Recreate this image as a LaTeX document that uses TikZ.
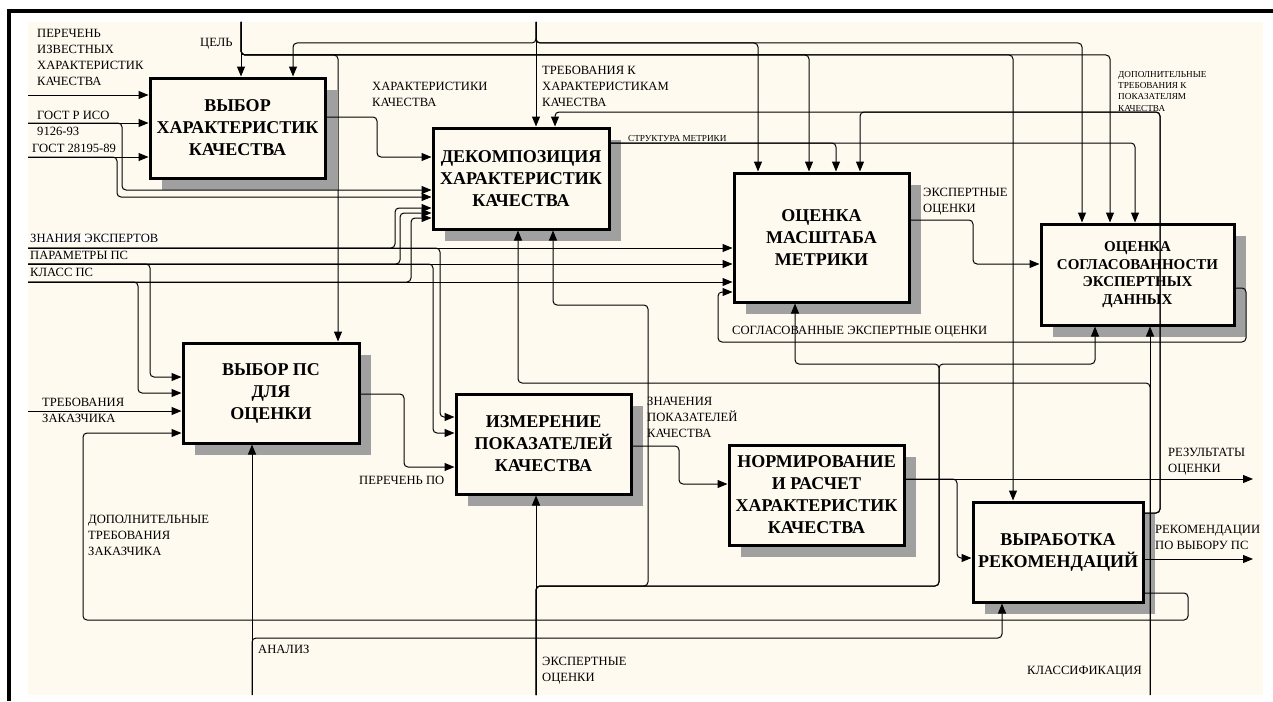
\documentclass[tikz,border=0pt]{standalone}
\usepackage{fontspec}
\setmainfont{Liberation Serif}
\usetikzlibrary{arrows.meta,shadows}
\definecolor{cream}{RGB}{255,250,240}
\definecolor{shade}{RGB}{160,160,160}
\begin{document}
\begin{tikzpicture}[x=1pt,y=-1pt,
  box/.style={draw, line width=3pt, fill=cream, inner sep=0pt, align=center,
    font=\fontsize{18}{22}\selectfont\bfseries,
    drop shadow={shadow xshift=12pt, shadow yshift=-12pt, fill=shade, opacity=1}},
  conn/.style={line width=1pt, rounded corners=4pt},
  arr/.style={conn, -{Triangle[length=10pt,width=8pt]}},
  lbl/.style={inner sep=0pt, anchor=base west, align=left, font=\fontsize{12.6}{15.8}\selectfont},
  slbl/.style={inner sep=0pt, anchor=base west, align=left, font=\fontsize{9.2}{11.3}\selectfont}]
\useasboundingbox (0,0) rectangle (1273,701);
\fill[white] (0,0) rectangle (1273,701);
\fill[cream] (28,22) rectangle (1263,695);
\draw[line width=4pt] (1273,11.5) -- (8.5,11.5) -- (8.5,701);

% boxes
\node[box, minimum width=175pt, minimum height=100pt] (b1) at (237.5,128) {ВЫБОР\\ХАРАКТЕРИСТИК\\КАЧЕСТВА};
\node[box, minimum width=176pt, minimum height=101pt] (b2) at (521,178.5) {ДЕКОМПОЗИЦИЯ\\ХАРАКТЕРИСТИК\\КАЧЕСТВА};
\node[box, minimum width=175pt, minimum height=129pt] (b3) at (821.5,237.5) {ОЦЕНКА\\МАСШТАБА\\МЕТРИКИ};
\node[box, minimum width=193pt, minimum height=101pt, font=\fontsize{15}{17.7}\selectfont\bfseries] (b4) at (1137.5,274.5) {ОЦЕНКА\\СОГЛАСОВАННОСТИ\\ЭКСПЕРТНЫХ\\ДАННЫХ};
\node[box, minimum width=176pt, minimum height=100pt] (b5) at (271,393) {ВЫБОР ПС\\ДЛЯ\\ОЦЕНКИ};
\node[box, minimum width=175pt, minimum height=100pt] (b6) at (543.5,444) {ИЗМЕРЕНИЕ\\ПОКАЗАТЕЛЕЙ\\КАЧЕСТВА};
\node[box, minimum width=175pt, minimum height=100pt] (b7) at (816.5,495) {НОРМИРОВАНИЕ\\И РАСЧЕТ\\ХАРАКТЕРИСТИК\\КАЧЕСТВА};
\node[box, minimum width=170pt, minimum height=100pt] (b8) at (1058,552) {ВЫРАБОТКА\\РЕКОМЕНДАЦИЙ};

% free ends
\coordinate (goal) at (241,22);
\coordinate (req) at (536,22);
\coordinate (knw) at (28,248);
\coordinate (par) at (28,264);
\coordinate (cls) at (28,282);
\coordinate (lst) at (28,95);
\coordinate (gost1) at (28,123);
\coordinate (gost2) at (28,157);
\coordinate (cust) at (28,411);
\coordinate (anl) at (252,695);
\coordinate (exb) at (536,695);
\coordinate (clf) at (1150,695);
\coordinate (res) at (1253,479);
\coordinate (rec) at (1253,559);

% ЦЕЛЬ
\draw[arr] (goal) -- (241,0 |- b1.north);
\draw[arr] (goal) -- (241,55) -- (338,55) -- (338,0 |- b5.north);
\draw[arr] (goal) -- (241,55) -- (809,55) -- (809,0 |- b3.north);
\draw[arr] (goal) -- (241,55) -- (1013,55) -- (1013,0 |- b8.north);
\draw[arr] (goal) -- (241,55) -- (1110,55) -- (1110,0 |- b4.north);
% ТРЕБОВАНИЯ К ХАРАКТЕРИСТИКАМ
\draw[arr] (req) -- (536,0 |- b2.north);
\draw[arr] (req) -- (536,43) -- (293,43) -- (293,0 |- b1.north);
\draw[arr] (req) -- (536,43) -- (758,43) -- (758,0 |- b3.north);
\draw[arr] (req) -- (536,43) -- (1082,43) -- (1082,0 |- b4.north);
% ДОПОЛНИТЕЛЬНЫЕ ТРЕБОВАНИЯ К ПОКАЗАТЕЛЯМ
\draw[arr] (b8.east |- 0,513) -- (1160,513) -- (1160,112) -- (555,112) -- (555,0 |- b2.north);
\draw[arr] (b8.east |- 0,513) -- (1160,513) -- (1160,112) -- (860,112) -- (860,0 |- b3.north);
% box 1 inputs and output
\draw[arr] (lst) -- (b1.west |- lst);
\draw[arr] (gost1) -- (b1.west |- gost1);
\draw[arr] (gost2) -- (b1.west |- gost2);
\draw[arr] (gost1) -- (122,123) -- (122,190) -- (b2.west |- 0,190);
\draw[arr] (gost2) -- (117,157) -- (117,197) -- (b2.west |- 0,197);
\draw[arr] (b1.east |- 0,117) -- (377,117) -- (377,157) -- (b2.west |- 0,157);
% СТРУКТУРА МЕТРИКИ
\draw[arr] (b2.east |- 0,143) -- (836,143) -- (836,0 |- b3.north);
\draw[arr] (b2.east |- 0,143) -- (1135,143) -- (1135,0 |- b4.north);
% ЗНАНИЯ, ПАРАМЕТРЫ, КЛАСС
\draw[arr] (knw) -- (b3.west |- knw);
\draw[arr] (par) -- (b3.west |- par);
\draw[arr] (cls) -- (b3.west |- cls);
\draw[arr] (knw) -- (395,248) -- (395,208) -- (b2.west |- 0,208);
\draw[arr] (par) -- (400,264) -- (400,213) -- (b2.west |- 0,213);
\draw[arr] (cls) -- (411,282) -- (411,218) -- (b2.west |- 0,218);
\draw[arr] (knw) -- (440,248) -- (440,417) -- (b6.west |- 0,417);
\draw[arr] (par) -- (433,264) -- (433,433) -- (b6.west |- 0,433);
\draw[arr] (par) -- (150,264) -- (150,377) -- (b5.west |- 0,377);
\draw[arr] (cls) -- (138,282) -- (138,393) -- (b5.west |- 0,393);
% СОГЛАСОВАННЫЕ ЭКСПЕРТНЫЕ ОЦЕНКИ
\draw[arr] (b4.east |- 0,288) -- (1246,288) -- (1246,342) -- (718,342) -- (718,292) -- (b3.west |- 0,292);
% ЭКСПЕРТНЫЕ ОЦЕНКИ b3 -> b4
\draw[arr] (b3.east |- 0,220) -- (973,220) -- (973,264) -- (b4.west |- 0,264);
% box 5 inputs
\draw[arr] (cust) -- (b5.west |- cust);
\draw[arr] (b8.east |- 0,593) -- (1188,593) -- (1188,620) -- (83,620) -- (83,433) -- (b5.west |- 0,433);
% ПЕРЕЧЕНЬ ПО
\draw[arr] (b5.east |- 0,394) -- (404,394) -- (404,467) -- (b6.west |- 0,467);
% АНАЛИЗ
\draw[arr] (anl) -- (252,0 |- b5.south);
\draw[arr] (anl) -- (252,638) -- (1002,638) -- (1002,0 |- b8.south);
% ЭКСПЕРТНЫЕ ОЦЕНКИ (bottom)
\draw[arr] (exb) -- (536,0 |- b6.south);
\draw[arr] (exb) -- (536,586) -- (648,586) -- (648,305) -- (553,305) -- (553,0 |- b2.south);
\draw[arr] (exb) -- (536,586) -- (939,586) -- (939,364) -- (795,364) -- (795,0 |- b3.south);
\draw[arr] (exb) -- (536,586) -- (939,586) -- (939,364) -- (1095,364) -- (1095,0 |- b4.south);
% КЛАССИФИКАЦИЯ
\draw[arr] (clf) -- (1150,0 |- b4.south);
\draw[arr] (clf) -- (1150,383) -- (518,383) -- (518,0 |- b2.south);
% ЗНАЧЕНИЯ ПОКАЗАТЕЛЕЙ
\draw[arr] (b6.east |- 0,446) -- (679,446) -- (679,484) -- (b7.west |- 0,484);
% outputs
\draw[arr] (b7.east |- res) -- (res);
\draw[arr] (b7.east |- res) -- (957,479) -- (957,558) -- (b8.west |- 0,558);
\draw[arr] (b8.east |- rec) -- (rec);

% labels (multi-line: anchor at last baseline)
\node[lbl] (tPer) at (37,85) {ПЕРЕЧЕНЬ\\ИЗВЕСТНЫХ\\ХАРАКТЕРИСТИК\\КАЧЕСТВА};
\node[lbl] (tGoal) at (200,47) {ЦЕЛЬ};
\node[lbl] (tG1) at (37,135) {ГОСТ Р ИСО\\9126-93};
\node[lbl] (tG2) at (32,152) {ГОСТ 28195-89};
\node[lbl] (tChar) at (372,106) {ХАРАКТЕРИСТИКИ\\КАЧЕСТВА};
\node[lbl] (tReq) at (542,106) {ТРЕБОВАНИЯ К\\ХАРАКТЕРИСТИКАМ\\КАЧЕСТВА};
\node[slbl] (tStr) at (628,141) {СТРУКТУРА МЕТРИКИ};
\node[slbl] (tDop) at (1118,111) {ДОПОЛНИТЕЛЬНЫЕ\\ТРЕБОВАНИЯ К\\ПОКАЗАТЕЛЯМ\\КАЧЕСТВА};
\node[lbl] (tEx1) at (923,212) {ЭКСПЕРТНЫЕ\\ОЦЕНКИ};
\node[lbl, fill=white] (tKnw) at (30,242) {ЗНАНИЯ ЭКСПЕРТОВ};
\node[lbl] (tPar) at (30,259) {ПАРАМЕТРЫ ПС};
\node[lbl] (tCls) at (30,276) {КЛАСС ПС};
\node[lbl] (tSogl) at (732,334) {СОГЛАСОВАННЫЕ ЭКСПЕРТНЫЕ ОЦЕНКИ};
\node[lbl] (tCust) at (42,422) {ТРЕБОВАНИЯ\\ЗАКАЗЧИКА};
\node[lbl] (tZn) at (647,437) {ЗНАЧЕНИЯ\\ПОКАЗАТЕЛЕЙ\\КАЧЕСТВА};
\node[lbl] (tPo) at (359,484) {ПЕРЕЧЕНЬ ПО};
\node[lbl] (tDopC) at (88,555) {ДОПОЛНИТЕЛЬНЫЕ\\ТРЕБОВАНИЯ\\ЗАКАЗЧИКА};
\node[lbl] (tAnl) at (258,653) {АНАЛИЗ};
\node[lbl] (tEx2) at (542,681) {ЭКСПЕРТНЫЕ\\ОЦЕНКИ};
\node[lbl] (tClf) at (1027,674) {КЛАССИФИКАЦИЯ};
\node[lbl] (tRes) at (1168,472) {РЕЗУЛЬТАТЫ\\ОЦЕНКИ};
\node[lbl] (tRec) at (1155,549) {РЕКОМЕНДАЦИИ\\ПО ВЫБОРУ ПС};
\end{tikzpicture}
\end{document}
